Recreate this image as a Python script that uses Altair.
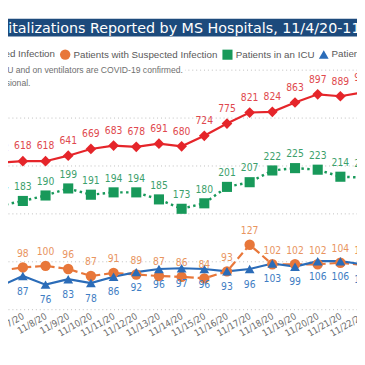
import altair as alt
import pandas as pd

# ---- data ----
days = list(range(6, 23))  # 11/6/20 .. 11/22/20
confirmed = [612, 618, 618, 641, 669, 683, 678, 691, 680, 724, 775, 821, 824, 863, 897, 889, 905]
suspected = [94, 98, 100, 96, 87, 91, 89, 87, 86, 84, 93, 127, 102, 102, 102, 104, 101]
icu = [177, 183, 190, 199, 191, 194, 194, 185, 173, 180, 201, 207, 222, 225, 223, 214, 213]
vent = [74, 87, 76, 83, 78, 86, 92, 96, 97, 96, 93, 96, 103, 99, 106, 106, 102]

series_names = [
    "Patients with Confirmed Infection",
    "Patients with Suspected Infection",
    "Patients in an ICU",
    "Patients on Ventilators",
]
colors = ["#E5252A", "#E8773A", "#18995A", "#2B6CB8"]
label_colors = ["#E0484D", "#E9955F", "#3C9F6C", "#3E7DC3"]
shapes = ["diamond", "circle", "square", "triangle-up"]

title_text = "COVID-19 Hospitalizations Reported by MS Hospitals, 11/4/20-11/24/20"
note_lines = [
    "Note: Patients in the ICU and on ventilators are COVID-19 confirmed.",
    "Data are provisional.",
]

rows = []
for name, vals in zip(series_names, [confirmed, suspected, icu, vent]):
    for d, v in zip(days, vals):
        rows.append({"day": d, "series": name, "value": v})
df = pd.DataFrame(rows)

LABEL_FONT = "Liberation Sans Narrow, DejaVu Sans Condensed, Liberation Sans, sans-serif"

x_enc = alt.X(
    "day:Q",
    scale=alt.Scale(domain=[6.3448, 22.2931], nice=False, zero=False),
    axis=alt.Axis(
        values=days,
        labelExpr="'11/' + datum.value + '/20'",
        title=None, grid=False, ticks=False, domain=False,
        labelAngle=-30, labelAlign="right", labelBaseline="middle",
        labelFont=LABEL_FONT, labelFontSize=9.5, labelColor="#6b6b6b",
        labelPadding=6, labelOverlap=False, labelFlush=False, labelBound=False,
    ),
)

y1_scale = alt.Scale(domain=[0, 1000], nice=False, zero=False)
y1_axis = alt.Axis(
    values=[0, 200, 400, 600, 800, 1000], grid=True, gridDash=[1, 3],
    gridColor="#bdbdbd", gridWidth=1, labels=False, ticks=False,
    domain=False, title=None,
)
y2_scale = alt.Scale(domain=[44.6, 350.9], nice=False, zero=False)

color_scale = alt.Scale(domain=series_names, range=colors)
shape_scale = alt.Scale(domain=series_names, range=shapes)
legend = alt.Legend(
    title=None, orient="none", legendX=-112, legendY=-21, direction="horizontal",
    symbolSize=64, labelFont="Liberation Sans", labelFontSize=10,
    labelColor="#595959", labelOffset=3, columnPadding=4, padding=0,
    labelLimit=400, symbolStrokeWidth=0, symbolOpacity=1,
)

base = alt.Chart(df)


def y1():
    return alt.Y("value:Q", scale=y1_scale, axis=y1_axis)


def y2():
    return alt.Y("value:Q", scale=y2_scale, axis=None)


# ---- confirmed (primary scale) ----
red = base.transform_filter(alt.datum.series == series_names[0])
red_line = red.mark_line(color=colors[0], strokeWidth=2.2).encode(x=x_enc, y=y1())
red_pts = red.mark_point(filled=True, size=120, opacity=1).encode(
    x=x_enc, y=y1(),
    color=alt.Color("series:N", scale=color_scale, legend=legend),
    shape=alt.Shape("series:N", scale=shape_scale, legend=legend),
)
red_txt = red.mark_text(dy=-15, font=LABEL_FONT, fontSize=10.5, color=label_colors[0]).encode(
    x=x_enc, y=y1(), text="value:Q"
)
red_group = alt.layer(red_line, red_pts, red_txt)

# ---- secondary scale series ----
sus = base.transform_filter(alt.datum.series == series_names[1])
icu_b = base.transform_filter(alt.datum.series == series_names[2])
ven = base.transform_filter(alt.datum.series == series_names[3])
sec = base.transform_filter(alt.datum.series != series_names[0])

icu_line = icu_b.mark_line(color=colors[2], strokeWidth=2.5, strokeDash=[2.5, 3.5]).encode(x=x_enc, y=y2())
sus_line = sus.mark_line(color=colors[1], strokeWidth=2.2, strokeDash=[8, 4]).encode(x=x_enc, y=y2())
ven_line = ven.mark_line(color=colors[3], strokeWidth=2.2).encode(x=x_enc, y=y2())

sec_pts = sec.mark_point(filled=True, opacity=1).encode(
    x=x_enc, y=y2(),
    color=alt.Color("series:N", scale=color_scale, legend=legend),
    shape=alt.Shape("series:N", scale=shape_scale, legend=legend),
    size=alt.Size("series:N", scale=alt.Scale(domain=series_names, range=[120, 100, 64, 100]), legend=None),
)
icu_txt = icu_b.mark_text(dy=-14, font=LABEL_FONT, fontSize=10.5, color=label_colors[2]).encode(x=x_enc, y=y2(), text="value:Q")
sus_txt = sus.mark_text(dy=-14, font=LABEL_FONT, fontSize=10.5, color=label_colors[1]).encode(x=x_enc, y=y2(), text="value:Q")
ven_txt = ven.mark_text(dy=16, font=LABEL_FONT, fontSize=10.5, color=label_colors[3]).encode(x=x_enc, y=y2(), text="value:Q")

sec_group = alt.layer(icu_line, sus_line, ven_line, sec_pts, icu_txt, sus_txt, ven_txt)

# ---- header decorations ----
one = pd.DataFrame({"t": [title_text]})
banner = alt.Chart(one).mark_rect(color="#1C4A7C").encode(
    x=alt.value(-8), x2=alt.value(370), y=alt.value(-52), y2=alt.value(-34)
)
title_mark = alt.Chart(one).mark_text(
    align="left", baseline="alphabetic", font="DejaVu Sans", fontSize=14.6, color="white"
).encode(text="t:N", x=alt.value(-112), y=alt.value(-37.5))

note_bg = alt.Chart(one).mark_rect(color="white").encode(
    x=alt.value(-8), x2=alt.value(181), y=alt.value(-5), y2=alt.value(5)
)
notes1 = alt.Chart(pd.DataFrame({"t": [note_lines[0]]})).mark_text(
    align="right", baseline="alphabetic", font="Liberation Sans", fontSize=8.8, color="#6f6f6f"
).encode(text="t:N", x=alt.value(179), y=alt.value(3.5))
notes2 = alt.Chart(pd.DataFrame({"t": [note_lines[1]]})).mark_text(
    align="right", baseline="alphabetic", font="Liberation Sans", fontSize=8.8, color="#6f6f6f"
).encode(text="t:N", x=alt.value(23), y=alt.value(17))

chart = (
    alt.layer(banner, title_mark, note_bg, notes1, notes2, red_group, sec_group)
    .resolve_scale(y="independent")
    .properties(
        width=370, height=245,
        padding={"left": 0, "top": 59, "right": -13, "bottom": 53},
        autosize=alt.AutoSizeParams(type="none"),
        background="white",
    )
    .configure_view(stroke=None)
)

chart.save("out.html", embed_options={"renderer": "svg", "actions": False})
